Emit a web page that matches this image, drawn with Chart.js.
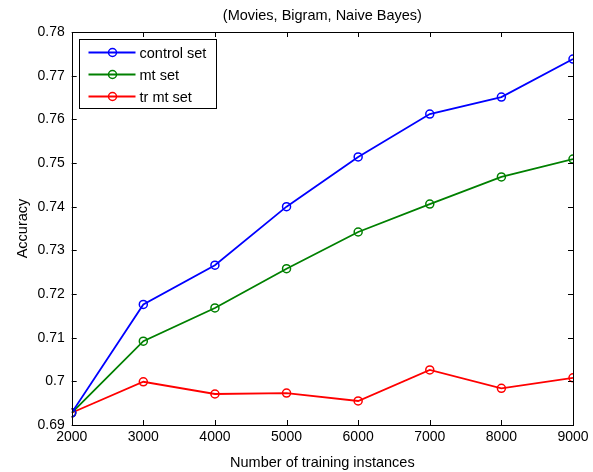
<!DOCTYPE html>
<html>
<head>
<meta charset="utf-8">
<script src="https://cdn.jsdelivr.net/npm/chart.js@4"></script>
<style>
  html, body { margin: 0; padding: 0; background: #fff; }
  #wrap { width: 593px; height: 472px; }
</style>
</head>
<body>
<div id="wrap"><canvas id="chart" width="593" height="472"></canvas></div>
<script>
const trainingSizes = [2000, 3000, 4000, 5000, 6000, 7000, 8000, 9000]
const controlSet = [0.6928, 0.7176, 0.7266, 0.7400, 0.7514, 0.7612, 0.7651, 0.7738]
const mtSet = [0.6928, 0.7092, 0.7168, 0.7258, 0.7342, 0.7406, 0.7468, 0.7509]
const trMtSet = [0.6928, 0.6999, 0.6971, 0.6973, 0.6955, 0.7026, 0.6984, 0.7008]
const yTicks = [0.69, 0.7, 0.71, 0.72, 0.73, 0.74, 0.75, 0.76, 0.77, 0.78]

const FONT = '"Liberation Sans", Arial, sans-serif'

const toPoints = (values) => trainingSizes.map((x, i) => ({ x, y: values[i] }))

const series = (label, values, color) => ({
  label,
  data: toPoints(values),
  borderColor: color,
  backgroundColor: color,
  borderWidth: 1.8,
  pointStyle: 'circle',
  pointRadius: 4,
  pointHoverRadius: 4,
  pointBorderWidth: 1.5,
  pointBackgroundColor: 'rgba(0,0,0,0)',
  pointBorderColor: color,
  tension: 0
})

// box around the plot with inward ticks on all four sides
const boxPlugin = {
  id: 'box',
  afterDraw(chart) {
    const { ctx, chartArea: a, scales } = chart
    const len = 5
    ctx.save()
    ctx.strokeStyle = '#000'
    ctx.lineWidth = 1
    ctx.beginPath()
    scales.x.ticks.forEach((t) => {
      const px = Math.round(scales.x.getPixelForValue(t.value)) + 0.5
      ctx.moveTo(px, a.bottom); ctx.lineTo(px, a.bottom - len)
      ctx.moveTo(px, a.top); ctx.lineTo(px, a.top + len)
    })
    scales.y.ticks.forEach((t) => {
      const py = Math.round(scales.y.getPixelForValue(t.value)) + 0.5
      ctx.moveTo(a.left, py); ctx.lineTo(a.left + len, py)
      ctx.moveTo(a.right, py); ctx.lineTo(a.right - len, py)
    })
    ctx.stroke()
    ctx.strokeRect(Math.round(a.left) + 0.5, Math.round(a.top) + 0.5,
      Math.round(a.right - a.left), Math.round(a.bottom - a.top))
    ctx.restore()
  }
}

// legend drawn inside the plot, top left
const innerLegend = {
  id: 'innerLegend',
  afterDraw(chart) {
    const { ctx, chartArea: a } = chart
    const x0 = Math.round(a.left + 7) + 0.5
    const y0 = Math.round(a.top + 7) + 0.5
    ctx.save()
    ctx.fillStyle = '#fff'
    ctx.fillRect(x0, y0, 137, 69)
    ctx.strokeStyle = '#000'
    ctx.lineWidth = 1
    ctx.strokeRect(x0, y0, 137, 69)
    ctx.font = '14.5px ' + FONT
    ctx.textBaseline = 'middle'
    chart.data.datasets.forEach((ds, i) => {
      const cy = y0 + 13 + i * 22
      ctx.strokeStyle = ds.borderColor
      ctx.lineWidth = 1.8
      ctx.beginPath()
      ctx.moveTo(x0 + 9, cy); ctx.lineTo(x0 + 56, cy)
      ctx.stroke()
      ctx.lineWidth = 1.5
      ctx.beginPath()
      ctx.arc(x0 + 33, cy, 4, 0, Math.PI * 2)
      ctx.stroke()
      ctx.fillStyle = '#000'
      ctx.fillText(ds.label, x0 + 60, cy + 1)
    })
    ctx.restore()
  }
}

new Chart(document.getElementById('chart'), {
  type: 'line',
  data: {
    datasets: [
      series('control set', controlSet, '#0000ff'),
      series('mt set', mtSet, '#008000'),
      series('tr mt set', trMtSet, '#ff0000')
    ]
  },
  options: {
    responsive: false,
    animation: false,
    events: [],
    layout: { padding: { left: 0, right: 20, top: 0, bottom: 0 } },
    plugins: {
      legend: { display: false },
      tooltip: { enabled: false },
      title: {
        display: true,
        text: '(Movies, Bigram, Naive Bayes)',
        fullSize: false,
        color: '#000',
        font: { family: FONT, size: 14.5, weight: 'normal' },
        padding: { top: 7, bottom: 7.6 }
      }
    },
    scales: {
      x: {
        type: 'linear',
        min: 2000,
        max: 9000,
        afterBuildTicks: (s) => { s.ticks = trainingSizes.map((v) => ({ value: v })) },
        grid: { display: false, drawTicks: false },
        border: { display: false },
        ticks: {
          color: '#000',
          padding: 4,
          maxRotation: 0,
          font: { family: FONT, size: 14 },
          callback: (v) => String(v)
        },
        title: {
          display: true,
          text: 'Number of training instances',
          color: '#000',
          font: { family: FONT, size: 14.5 },
          padding: { top: 4, bottom: 0 }
        },
        afterFit: (s) => { s.height = 47 }
      },
      y: {
        min: 0.69,
        max: 0.78,
        afterBuildTicks: (s) => { s.ticks = yTicks.map((v) => ({ value: v })) },
        grid: { display: false, drawTicks: false },
        border: { display: false },
        ticks: {
          color: '#000',
          padding: 7,
          font: { family: FONT, size: 14 },
          callback: (v) => String(Math.round(v * 100) / 100)
        },
        title: {
          display: true,
          text: 'Accuracy',
          color: '#000',
          font: { family: FONT, size: 14.5 },
          padding: { top: 14, bottom: 0 }
        },
        afterFit: (s) => { s.width = 71.7 }
      }
    }
  },
  plugins: [boxPlugin, innerLegend]
})
</script>
</body>
</html>
